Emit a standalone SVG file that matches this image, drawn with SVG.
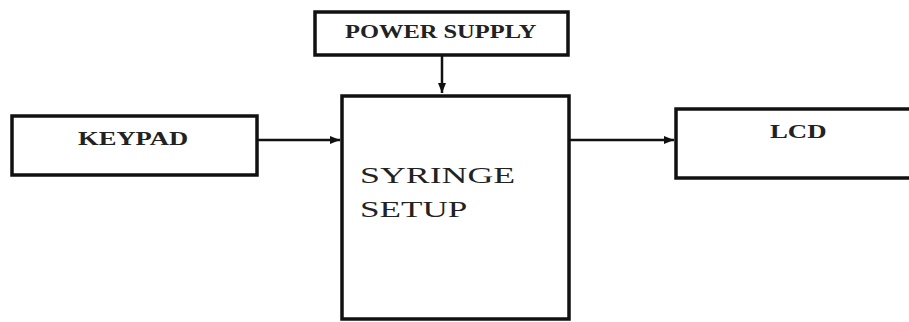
<svg xmlns="http://www.w3.org/2000/svg" width="909" height="322" viewBox="0 0 909 322">
<style>
.box{fill:#fff;stroke:#111;stroke-width:3.5}
.lbl{font-family:"Liberation Serif","Times New Roman",serif;font-weight:bold;font-size:18px;fill:#222}
.big{font-family:"Liberation Serif","Times New Roman",serif;font-size:24px;fill:#222}
.conn{stroke:#111;stroke-width:2.5;fill:none;marker-end:url(#ah)}
</style>
<defs>
<marker id="ah" markerWidth="10" markerHeight="8" refX="10" refY="4" orient="auto" markerUnits="userSpaceOnUse">
<path d="M0,0 L10,4 L0,8 Z" fill="#111"/>
</marker>
</defs>
<rect width="909" height="322" fill="#fff"/>
<g id="power">
<rect class="box" x="315" y="12" width="253" height="43"/>
<text class="lbl" transform="translate(345,38) scale(1.45,1)" textLength="132" lengthAdjust="spacingAndGlyphs">POWER SUPPLY</text>
</g>
<g id="keypad">
<rect class="box" x="12" y="116" width="245" height="59"/>
<text class="lbl" transform="translate(78,145) scale(1.45,1)" textLength="76" lengthAdjust="spacingAndGlyphs">KEYPAD</text>
</g>
<g id="syringe">
<rect class="box" x="342" y="96" width="227" height="223"/>
<text class="big" transform="translate(360,183) scale(1.45,1)" textLength="107" lengthAdjust="spacingAndGlyphs">SYRINGE</text>
<text class="big" transform="translate(360,217) scale(1.45,1)" textLength="74" lengthAdjust="spacingAndGlyphs">SETUP</text>
</g>
<g id="lcd">
<rect class="box" x="676" y="109" width="245" height="69"/>
<text class="lbl" transform="translate(770,138) scale(1.45,1)" textLength="39" lengthAdjust="spacingAndGlyphs">LCD</text>
</g>
<g id="connectors">
<line class="conn" x1="442" y1="56" x2="442" y2="93"/>
<line class="conn" x1="258" y1="140" x2="340" y2="140"/>
<line class="conn" x1="570" y1="140" x2="674" y2="140"/>
</g>
</svg>
